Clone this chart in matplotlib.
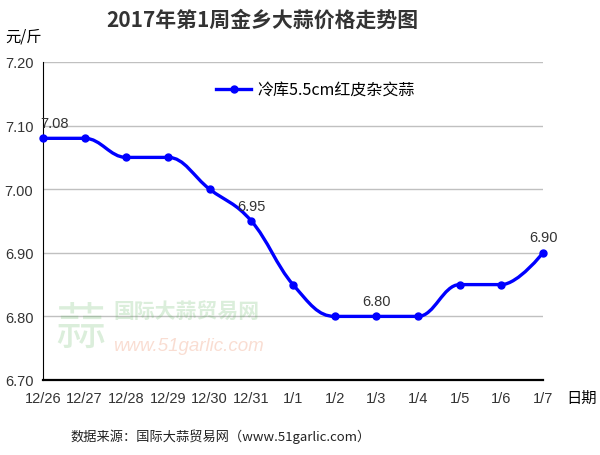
import numpy as np
import matplotlib
matplotlib.use("Agg")
import matplotlib.pyplot as plt
from matplotlib.path import Path
from matplotlib.patches import PathPatch

plt.rcParams['font.family'] = ['Liberation Sans', 'Noto Sans CJK SC', 'DejaVu Sans']

dates = ['12/26', '12/27', '12/28', '12/29', '12/30', '12/31', '1/1',
         '1/2', '1/3', '1/4', '1/5', '1/6', '1/7']
prices = [7.08, 7.08, 7.05, 7.05, 7.00, 6.95, 6.85, 6.80, 6.80, 6.80, 6.85, 6.85, 6.90]
labelled = [0, 5, 8, 12]
series_name = '冷库5.5cm红皮杂交蒜'
yticks = [6.70, 6.80, 6.90, 7.00, 7.10, 7.20]


def spline_path(xs, ys, smoothing=1.5):
    # bezier control points in the style of a smoothed line chart
    denom = smoothing + 1
    n = len(xs)
    verts = [(xs[0], ys[0])]
    codes = [Path.MOVETO]
    ctrl = []
    for i in range(n):
        x, y = xs[i], ys[i]
        if i == 0 or i == n - 1:
            ctrl.append(((x, y), (x, y)))
            continue
        lx, ly = xs[i - 1], ys[i - 1]
        nx, ny = xs[i + 1], ys[i + 1]
        lcx = (smoothing * x + lx) / denom
        lcy = (smoothing * y + ly) / denom
        rcx = (smoothing * x + nx) / denom
        rcy = (smoothing * y + ny) / denom
        corr = (rcy - lcy) * (rcx - x) / (rcx - lcx) + y - rcy
        lcy += corr
        rcy += corr
        if lcy > ly and lcy > y:
            lcy = max(ly, y)
            rcy = 2 * y - lcy
        elif lcy < ly and lcy < y:
            lcy = min(ly, y)
            rcy = 2 * y - lcy
        if rcy > ny and rcy > y:
            rcy = max(ny, y)
            lcy = 2 * y - rcy
        elif rcy < ny and rcy < y:
            rcy = min(ny, y)
            lcy = 2 * y - rcy
        ctrl.append(((lcx, lcy), (rcx, rcy)))
    for i in range(1, n):
        verts += [ctrl[i - 1][1], ctrl[i][0], (xs[i], ys[i])]
        codes += [Path.CURVE4] * 3
    return Path(verts, codes)


fig = plt.figure(figsize=(6, 4.56), dpi=100)
ax = fig.add_axes([43 / 600, 1 - 381 / 456, 500 / 600, 318 / 456])

x = np.arange(len(dates))
ax.add_patch(PathPatch(spline_path(x, prices), fill=False, edgecolor='#0000ff',
                       lw=2.4, zorder=3, clip_on=False))
ax.plot(x, prices, 'o', color='#0000ff', ms=5, zorder=4, clip_on=False)
ax.plot([], [], '-o', color='#0000ff', lw=2.4, ms=5, label=series_name)

for i in labelled:
    ax.annotate('%.2f' % prices[i], (x[i], prices[i]), xytext=(0 if i else 8, 6),
                textcoords='offset points', ha='center', va='bottom',
                fontsize=10.5, color='#333333')

ax.set_xlim(0, len(dates) - 1)
ax.set_ylim(6.70, 7.20)
ax.set_xticks(x)
ax.set_xticklabels(dates)
ax.set_yticks(yticks)
ax.set_yticklabels(['%.2f' % v for v in yticks])
ax.tick_params(length=0, labelsize=10.5, labelcolor='#333333', pad=8)
ax.tick_params(axis='y', pad=7)
ax.grid(axis='y', color='#c0c0c0', lw=1)
ax.set_axisbelow(True)
for s in ['top', 'right']:
    ax.spines[s].set_visible(False)
ax.spines['left'].set_color('black')
ax.spines['bottom'].set_color('black')
ax.spines['bottom'].set_linewidth(1.6)

leg = ax.legend(loc='upper center', bbox_to_anchor=(0.545, 0.985), frameon=False,
                prop={'family': ['Noto Sans CJK SC'], 'size': 11.5}, handlelength=2.2,
                handletextpad=0.4)

# watermark
ax.text(0.075, 0.16, '蒜', transform=ax.transAxes, fontsize=36, color='#5bb35b',
        alpha=0.22, ha='center', va='center', family=['Noto Sans CJK SC'])
ax.text(0.14, 0.22, '国际大蒜贸易网', transform=ax.transAxes, fontsize=15,
        color='#5bb35b', alpha=0.22, ha='left', va='center', family=['Noto Sans CJK SC'],
        weight='bold')
ax.text(0.14, 0.11, 'www.51garlic.com', transform=ax.transAxes, fontsize=13.5,
        color='#f0a080', alpha=0.35, ha='left', va='center', style='italic')

fig.text(262 / 600, 1 - 20 / 456, '2017年第1周金乡大蒜价格走势图', ha='center', va='center',
         fontsize=15, weight='bold', color='#333333', family=['Noto Sans CJK SC'])
fig.text(5 / 600, 1 - 37 / 456, '元/斤', ha='left', va='center', fontsize=11,
         family=['Noto Sans CJK SC'])
fig.text(566 / 600, 1 - 398 / 456, '日期', ha='left', va='center', fontsize=11,
         family=['Noto Sans CJK SC'])
fig.text(70 / 600, 1 - 437 / 456, '数据来源：国际大蒜贸易网（www.51garlic.com）', ha='left',
         va='center', fontsize=9.5, family=['Noto Sans CJK SC'], color='#222222')

fig.savefig('out.png', dpi=100)
